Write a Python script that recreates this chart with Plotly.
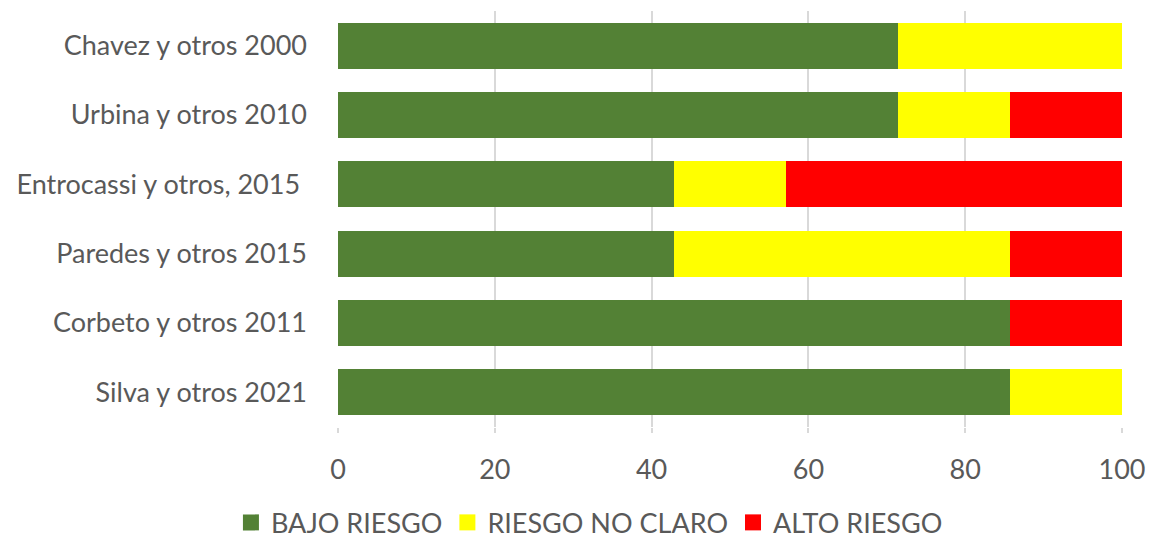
import plotly.graph_objects as go

categories = ["Chavez y otros 2000", "Urbina y otros 2010", "Entrocassi y otros, 2015\u00a0",
              "Paredes y otros 2015", "Corbeto y otros 2011", "Silva y otros 2021"]
bajo = [71.43, 71.43, 42.86, 42.86, 85.71, 85.71]
no_claro = [28.57, 14.29, 14.29, 42.86, 0, 14.29]
alto = [0, 14.29, 42.86, 14.29, 14.29, 0]
x_ticks = [0, 20, 40, 60, 80, 100]

font_family = "Lato, 'Open Sans', sans-serif"
txt = "#595959"
FS = 27

series = [("BAJO RIESGO", bajo, "#538135"),
          ("RIESGO NO CLARO", no_claro, "#FFFF00"),
          ("ALTO RIESGO", alto, "#FF0000")]

fig = go.Figure()
for name, vals, col in series:
    fig.add_trace(go.Bar(y=categories, x=vals, name=name, orientation="h",
                         marker=dict(color=col, line=dict(width=0)),
                         showlegend=False))
# legend entries with larger square symbols
for name, vals, col in series:
    fig.add_trace(go.Scatter(x=[None], y=[None], mode="markers", name=name,
                             marker=dict(symbol="square", size=18, color=col),
                             showlegend=True))

fig.update_layout(
    barmode="stack",
    bargap=0.34,
    width=1149, height=539,
    margin=dict(l=338, r=27, t=11, b=112, autoexpand=False),
    plot_bgcolor="white", paper_bgcolor="white",
    font=dict(family=font_family, size=FS, color=txt),
    legend=dict(orientation="h", xref="container", yref="container",
                x=0.513, xanchor="center", y=0.03, yanchor="middle",
                font=dict(size=FS, color=txt), itemwidth=30,
                traceorder="normal"),
    xaxis=dict(range=[0, 100], tickvals=x_ticks, showgrid=True,
               gridcolor="#d9d9d9", gridwidth=1.5, zeroline=False,
               ticks="outside", ticklen=5, tickcolor="#d9d9d9", tickwidth=1.5,
               ticklabelstandoff=14, showline=False, automargin=False,
               tickfont=dict(size=FS, color=txt)),
    yaxis=dict(categoryorder="array", categoryarray=categories[::-1],
               showgrid=False, ticks="", ticklabelstandoff=30, automargin=False,
               tickfont=dict(size=FS, color=txt)),
)

fig.write_html("out.html")
